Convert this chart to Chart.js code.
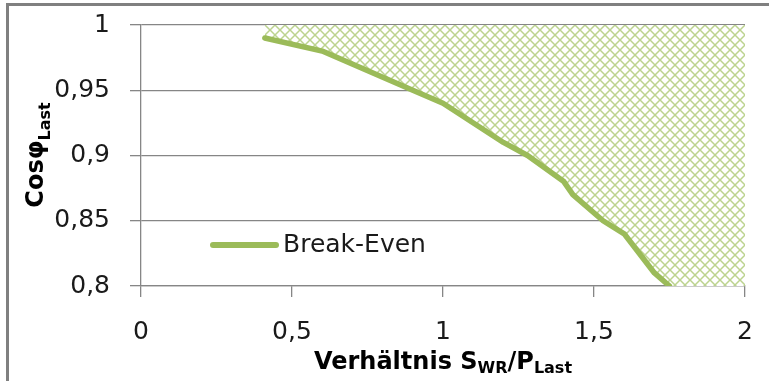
<!DOCTYPE html>
<html>
<head>
<meta charset="utf-8">
<script src="https://cdn.jsdelivr.net/npm/chart.js@4.4.0/dist/chart.umd.min.js"></script>
<style>
  body { margin: 0; background: #fff; }
  #wrap { width: 769px; height: 381px; }
</style>
</head>
<body>
<div id="wrap"><canvas id="breakEvenChart" width="769" height="381"></canvas></div>
<script>
// Verhältnis S_WR / P_Last (x) gegen cos phi (y)
var ratioValues = [0.41, 0.6, 0.9, 1.0, 1.2, 1.28, 1.4, 1.43, 1.53, 1.6, 1.7, 1.75];
var cosPhiValues = [0.99, 0.98, 0.95, 0.94, 0.91, 0.90, 0.88, 0.87, 0.85, 0.84, 0.81, 0.80];
var seriesLabel = 'Break-Even';

var xTickLabels = ['0', '0,5', '1', '1,5', '2'];
var yTickLabels = ['0,8', '0,85', '0,9', '0,95', '1'];

var lineGreen = '#9bbb59';
var hatchGreen = '#bcd38f';
var gridGray = '#868686';
var textColor = '#1a1a1a';
var tickFont = { family: 'DejaVu Sans', size: 25 };

// Kreuzschraffur als Canvas-Muster
function makeHatch() {
    var s = 10;
    var c = document.createElement('canvas');
    c.width = s; c.height = s;
    var g = c.getContext('2d');
    g.fillStyle = '#fff';
    g.fillRect(0, 0, s, s);
    g.strokeStyle = hatchGreen;
    g.lineWidth = 1.5;
    for (var k = -1; k <= 1; k++) {
        g.beginPath();
        g.moveTo(k * s, 0); g.lineTo(k * s + s, s);
        g.moveTo(k * s, s); g.lineTo(k * s + s, 0);
        g.stroke();
    }
    return g.createPattern(c, 'repeat');
}

var curvePoints = ratioValues.map(function (x, i) { return { x: x, y: cosPhiValues[i] }; });
// Schraffurfläche: Kurve, dann entlang der x-Achse bis zum Achsenende
var hatchPoints = curvePoints.concat([{ x: 2, y: 0.8 }]);

function drawRuns(ctx, runs, x, y, align) {
    var total = 0;
    runs.forEach(function (r) { ctx.font = r.font; r.w = ctx.measureText(r.text).width; total += r.w; });
    var cx = align === 'center' ? x - total / 2 : x;
    runs.forEach(function (r) {
        ctx.font = r.font;
        ctx.fillText(r.text, cx, y + (r.dy || 0));
        cx += r.w;
    });
}

var decorations = {
    id: 'decorations',
    beforeDraw: function (chart) {
        var ctx = chart.ctx;
        ctx.save();
        ctx.fillStyle = '#fff';
        ctx.fillRect(0, 0, chart.width, chart.height);
        ctx.fillStyle = '#808080';
        ctx.fillRect(6, 3, 3, chart.height);
        ctx.fillRect(6, 3, chart.width, 3);
        ctx.restore();
    },
    afterDraw: function (chart) {
        var ctx = chart.ctx;
        ctx.save();
        ctx.fillStyle = '#000';
        ctx.textBaseline = 'alphabetic';
        ctx.textAlign = 'left';
        var big = 'bold 24px "DejaVu Sans"';
        var small = 'bold 16px "DejaVu Sans"';
        // x-Achsentitel
        drawRuns(ctx, [
            { text: 'Verhältnis S', font: big },
            { text: 'WR', font: small, dy: 4 },
            { text: '/P', font: big },
            { text: 'Last', font: small, dy: 4 }
        ], 443, 369, 'center');
        // y-Achsentitel
        ctx.translate(43, 155);
        ctx.rotate(-Math.PI / 2);
        drawRuns(ctx, [
            { text: 'Cosφ', font: big },
            { text: 'Last', font: small, dy: 7 }
        ], 0, 0, 'center');
        ctx.restore();

        // Legende im Diagramm
        var ds = chart.data.datasets[1];
        ctx.save();
        ctx.strokeStyle = ds.borderColor;
        ctx.lineWidth = 6;
        ctx.lineCap = 'round';
        ctx.beginPath();
        ctx.moveTo(213, 245);
        ctx.lineTo(276, 245);
        ctx.stroke();
        ctx.fillStyle = textColor;
        ctx.font = '25px "DejaVu Sans"';
        ctx.textBaseline = 'middle';
        ctx.fillText(ds.label, 283, 245);
        ctx.restore();
    }
};

new Chart(document.getElementById('breakEvenChart'), {
    type: 'scatter',
    data: {
        datasets: [{
            label: 'Schraffur',
            data: hatchPoints,
            order: 2,
            showLine: true,
            borderWidth: 0,
            borderColor: 'rgba(0,0,0,0)',
            pointRadius: 0,
            backgroundColor: makeHatch(),
            fill: 'end'
        }, {
            label: seriesLabel,
            data: curvePoints,
            order: 1,
            clip: 0,
            showLine: true,
            borderColor: lineGreen,
            borderWidth: 5.5,
            borderCapStyle: 'round',
            borderJoinStyle: 'round',
            pointRadius: 0,
            fill: false
        }]
    },
    options: {
        responsive: false,
        animation: false,
        layout: { padding: { top: 25, right: 24, left: 0, bottom: 0 } },
        plugins: {
            legend: { display: false },
            tooltip: { enabled: false }
        },
        scales: {
            x: {
                type: 'linear',
                min: 0, max: 2,
                afterFit: function (scale) {
                    scale.height = 95;
                    scale.paddingLeft = 0;
                    scale.paddingRight = 0;
                },
                ticks: {
                    stepSize: 0.5,
                    color: textColor,
                    font: tickFont,
                    padding: 20,
                    maxRotation: 0,
                    callback: function (v, i) { return xTickLabels[i]; }
                },
                grid: { drawOnChartArea: false, color: gridGray, tickLength: 11, lineWidth: 1.3 },
                border: { color: gridGray, width: 1.3 }
            },
            y: {
                min: 0.8, max: 1,
                afterFit: function (scale) {
                    scale.width = 141;
                    scale.paddingTop = 0;
                    scale.paddingBottom = 0;
                },
                ticks: {
                    stepSize: 0.05,
                    color: textColor,
                    font: tickFont,
                    padding: 20,
                    callback: function (v, i) { return yTickLabels[i]; }
                },
                grid: { color: gridGray, tickLength: 11, lineWidth: 1.3 },
                border: { color: gridGray, width: 1.3 }
            }
        }
    },
    plugins: [decorations]
});
</script>
</body>
</html>
